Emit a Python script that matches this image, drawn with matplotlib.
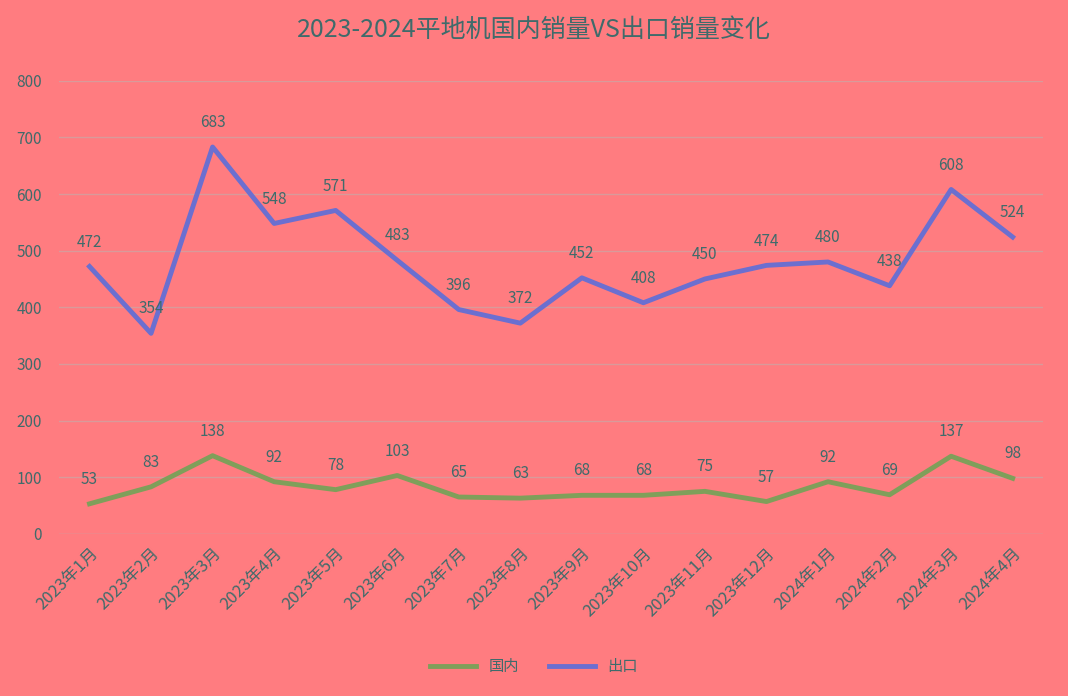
import matplotlib.pyplot as plt
from matplotlib import font_manager

cjk = [f.name for f in font_manager.fontManager.ttflist if 'CJK' in f.name]
cjk = sorted(set(cjk), key=lambda n: (0 if 'SC' in n else 1, n))
plt.rc('font', family=cjk + ['DejaVu Sans'])

months = ['2023年1月', '2023年2月', '2023年3月', '2023年4月', '2023年5月', '2023年6月',
          '2023年7月', '2023年8月', '2023年9月', '2023年10月', '2023年11月', '2023年12月',
          '2024年1月', '2024年2月', '2024年3月', '2024年4月']
domestic = [53, 83, 138, 92, 78, 103, 65, 63, 68, 68, 75, 57, 92, 69, 137, 98]
export = [472, 354, 683, 548, 571, 483, 396, 372, 452, 408, 450, 474, 480, 438, 608, 524]

bg = '#FF7C80'
txt = '#3F6B6B'

fig = plt.figure(figsize=(10.68, 6.96), dpi=100, facecolor=bg)
ax = fig.add_axes([0.055, 0.233, 0.922, 0.651], facecolor=bg)

x = range(len(months))
ax.plot(x, domestic, color='#7F9F5A', lw=3.5, label='国内')
ax.plot(x, export, color='#6B6FD0', lw=3.5, label='出口')
for i in x:
    ax.text(i, domestic[i] + 28, str(domestic[i]), ha='center', va='bottom', color=txt, fontsize=11)
    ax.text(i, export[i] + 28, str(export[i]), ha='center', va='bottom', color=txt, fontsize=11)

ax.set_xlim(-0.5, len(months) - 0.5)
ax.set_ylim(0, 800)
ax.set_yticks(range(0, 801, 100))
ax.set_xticks(list(x))
ax.set_xticklabels(months, rotation=45, ha='right', rotation_mode='anchor')
ax.tick_params(colors=txt, labelsize=11, length=0)
ax.tick_params(axis='x', labelsize=12, pad=8)
ax.tick_params(axis='y', pad=12)
ax.grid(axis='y', color='#D99A9A', lw=1)
ax.set_axisbelow(True)
for s in ax.spines.values():
    s.set_visible(False)
ax.axhline(0, color='#D99A9A', lw=1)

fig.suptitle('2023-2024平地机国内销量VS出口销量变化', y=0.975, fontsize=18, color=txt)
fig.legend(loc='lower center', bbox_to_anchor=(0.5, 0.01), ncol=2, frameon=False,
           fontsize=11, labelcolor=txt, handlelength=3)

fig.savefig('out.png', dpi=100, facecolor=bg)
